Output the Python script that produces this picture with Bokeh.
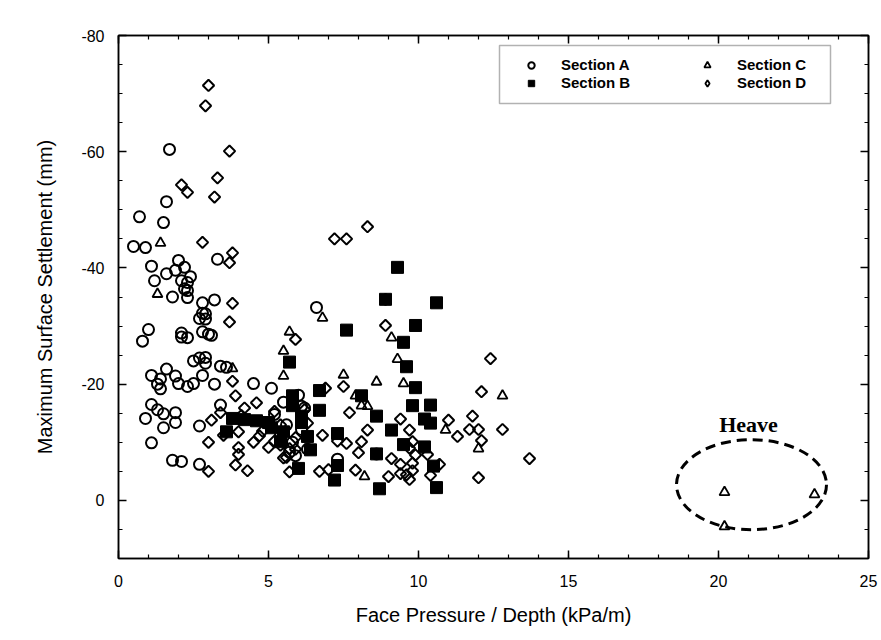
from bokeh.plotting import figure
from bokeh.models import (Range1d, LinearAxis, SingleIntervalTicker, Legend, LegendItem,
                          BoxAnnotation, CustomJSTickFormatter)
from bokeh.core.properties import value
from bokeh.embed import file_html
from bokeh.resources import INLINE

# ---------------- data ----------------
sec_a_x = [1.7, 1.6, 0.7, 1.5, 0.5, 0.9, 3.3, 2.0, 2.2, 1.9, 1.1, 1.6, 2.4, 1.2, 2.1, 2.3, 1.8, 2.2, 2.3, 2.3,
           2.8, 3.2, 2.8, 2.9, 2.7, 2.9, 1.0, 0.8, 2.1, 2.1, 2.3, 2.8, 3.0, 3.1, 2.5, 2.7, 2.9, 2.9, 3.4, 3.6,
           1.1, 1.6, 1.4, 1.3, 1.4, 1.9, 2.0, 2.3, 2.5, 2.8, 3.2, 4.5, 5.1, 1.1, 1.3, 1.5, 1.9, 0.9, 1.9, 1.5,
           2.7, 3.4, 1.1, 1.8, 2.1, 2.7, 6.6, 6.0, 6.2, 8.6, 7.3, 5.5, 5.2, 5.6, 6.1, 5.7, 5.9, 6.3, 5.4, 5.8, 6.1]
sec_a_y = [-60.4, -51.4, -48.8, -47.8, -43.7, -43.5, -41.5, -41.3, -40.1, -39.6, -40.3, -39.0, -38.5, -37.8, -37.8,
           -37.5, -35.0, -36.4, -36.1, -34.9, -34.0, -34.5, -32.2, -32.1, -31.3, -31.2, -29.4, -27.4, -28.8, -28.1,
           -28.0, -29.0, -28.6, -28.4, -24.0, -24.5, -24.6, -23.6, -23.1, -22.9, -21.5, -22.6, -20.9, -20.0, -19.2,
           -21.4, -20.1, -19.6, -20.1, -21.5, -20.0, -20.1, -19.3, -16.5, -15.6, -14.9, -15.1, -14.1, -13.4, -12.5,
           -12.8, -16.4, -9.9, -6.9, -6.7, -6.2, -33.2, -18.1, -15.9, -8.0, -7.1, -16.9, -14.8, -13.0, -12.2, -8.3,
           -7.7, -8.8, -11.3, -10.0, -16.2]

sec_b_x = [3.8, 4.2, 4.6, 5.0, 3.6, 5.8, 5.8, 5.1, 5.4, 6.1, 6.3, 6.4, 6.7, 6.7, 5.7, 6.0, 7.6, 7.3, 7.3, 7.2,
           8.1, 8.6, 9.1, 8.6, 8.7, 9.3, 8.9, 9.9, 9.5, 9.6, 9.9, 9.8, 10.2, 10.4, 10.4, 9.5, 10.2, 10.6, 10.5,
           10.6, 5.5, 6.1]
sec_b_y = [-14.1, -13.9, -13.7, -13.4, -11.8, -18.0, -16.3, -12.5, -10.1, -14.5, -11.0, -8.7, -15.5, -18.9, -23.8,
           -5.5, -29.3, -11.5, -6.0, -3.5, -18.0, -14.5, -12.1, -8.0, -2.0, -40.1, -34.6, -30.1, -27.2, -23.0,
           -19.4, -16.3, -14.0, -13.3, -16.4, -9.6, -9.2, -34.0, -5.9, -2.2, -11.8, -13.4]

sec_c_x = [1.4, 1.3, 3.8, 6.8, 5.7, 5.5, 5.5, 7.5, 9.1, 8.6, 9.3, 9.5, 7.9, 8.1, 8.3, 8.2, 10.9, 12.8, 12.0,
           20.2, 20.2, 23.2]
sec_c_y = [-44.3, -35.5, -22.7, -31.4, -29.0, -25.7, -21.4, -21.6, -28.0, -20.4, -24.3, -20.1, -18.0, -16.3,
           -16.2, -4.1, -12.1, -18.0, -8.9, -1.4, 4.5, -1.0]

sec_d_x = [3.0, 2.9, 3.7, 3.3, 2.1, 2.3, 3.2, 2.8, 3.8, 3.7, 3.8, 3.7, 3.8, 3.9, 3.1, 3.4, 4.2, 4.6, 4.1, 4.0,
           4.5, 4.7, 3.5, 3.0, 4.0, 4.0, 3.9, 3.0, 4.3, 8.3, 7.2, 7.6, 8.9, 8.9, 5.9, 7.5, 6.9, 7.7, 8.3, 8.1,
           9.4, 9.7, 6.8, 7.3, 7.6, 8.0, 9.1, 9.7, 9.9, 9.8, 9.4, 6.7, 7.0, 7.9, 9.0, 9.4, 9.6, 9.7, 5.7, 5.2,
           5.4, 12.4, 12.1, 11.0, 11.8, 11.7, 12.0, 11.3, 12.8, 12.1, 9.8, 10.3, 13.7, 10.7, 10.4, 9.8, 12.0,
           5.2, 5.4, 5.9, 5.7, 5.6, 5.9, 6.2, 6.3, 4.8, 5.0, 5.5]
sec_d_y = [-71.4, -67.9, -60.1, -55.5, -54.3, -53.0, -52.2, -44.4, -42.6, -40.9, -33.9, -30.7, -20.5, -18.0,
           -13.8, -15.1, -15.9, -16.8, -14.6, -11.8, -10.0, -11.1, -11.2, -10.0, -9.1, -7.9, -6.1, -5.0, -5.1,
           -47.1, -45.0, -45.0, -34.6, -30.1, -27.7, -19.6, -19.3, -15.1, -12.1, -10.1, -14.0, -12.1, -11.2,
           -10.2, -9.8, -8.2, -7.2, -9.0, -7.8, -6.4, -6.2, -5.0, -5.3, -5.2, -4.1, -4.6, -4.4, -3.6, -4.9,
           -10.2, -9.5, -24.4, -18.7, -13.8, -14.5, -12.2, -12.2, -11.0, -12.2, -10.3, -10.1, -7.9, -7.2, -6.2,
           -4.3, -5.1, -3.9, -15.3, -13.0, -10.8, -8.9, -7.4, -8.8, -15.6, -13.3, -11.9, -9.1, -7.3]

legend_labels = ["Section A", "Section B", "Section C", "Section D"]

# heave annotation
heave_ellipse_x = [21.1]
heave_ellipse_y = [-2.7]
heave_ellipse_w = 5.0
heave_ellipse_h = 15.5
heave_text_x = [21.0]
heave_text_y = [-13.0]
heave_text = ["Heave"]

x_label = "Face Pressure / Depth (kPa/m)"
y_label = "Maximum Surface Settlement (mm)"

# ---------------- figure ----------------
FONT = "Liberation Sans"

p = figure(width=881, height=640, output_backend="svg", toolbar_location=None,
           x_range=Range1d(0, 25), y_range=Range1d(10, -80))
p.min_border_left = 118
p.min_border_right = 13
p.min_border_top = 35
p.min_border_bottom = 82
p.background_fill_color = "white"
p.border_fill_color = "white"
p.outline_line_color = "black"
p.outline_line_width = 1.5
p.xgrid.visible = False
p.ygrid.visible = False

x_axis = p.below[0]
y_axis = p.left[0]
x_axis.ticker = SingleIntervalTicker(interval=5, num_minor_ticks=5)
y_axis.ticker = SingleIntervalTicker(interval=20, num_minor_ticks=4)
x_axis.formatter = CustomJSTickFormatter(code="return tick.toFixed(0)")
y_axis.formatter = CustomJSTickFormatter(code="return tick.toFixed(0)")

top_axis = LinearAxis(ticker=SingleIntervalTicker(interval=5, num_minor_ticks=5),
                      formatter=CustomJSTickFormatter(code="return ''"))
right_axis = LinearAxis(ticker=SingleIntervalTicker(interval=20, num_minor_ticks=4),
                        formatter=CustomJSTickFormatter(code="return ''"))
p.add_layout(top_axis, "above")
p.add_layout(right_axis, "right")

for ax in [x_axis, y_axis, top_axis, right_axis]:
    ax.major_tick_in = 8
    ax.major_tick_out = 0
    ax.minor_tick_in = 4
    ax.minor_tick_out = 0
    ax.axis_line_color = "black"
    ax.axis_line_width = 1.5
    ax.major_tick_line_color = "black"
    ax.major_tick_line_width = 1.5
    ax.minor_tick_line_color = "black"
    ax.minor_tick_line_width = 1.2
    ax.major_label_text_font = FONT
    ax.major_label_text_font_size = "16px"
    ax.major_label_text_color = "black"

top_axis.major_label_standoff = 0
right_axis.major_label_standoff = 0

x_axis.major_label_standoff = 16
y_axis.major_label_standoff = 14
x_axis.axis_label = x_label
y_axis.axis_label = y_label
for ax in [x_axis, y_axis]:
    ax.axis_label_text_font = FONT
    ax.axis_label_text_font_size = "20px"
    ax.axis_label_text_font_style = "normal"
    ax.axis_label_text_color = "black"
x_axis.axis_label_standoff = 14
y_axis.axis_label_standoff = 22

# ---------------- markers ----------------
r_a = p.scatter(sec_a_x, sec_a_y, marker="circle", size=11, fill_color=None,
                line_color="black", line_width=2)
r_b = p.scatter(sec_b_x, sec_b_y, marker="square", size=12, fill_color="black",
                line_color="black", line_width=1)
r_c = p.scatter(sec_c_x, sec_c_y, marker="triangle", size=10, fill_color=None,
                line_color="black", line_width=1.8)
r_d = p.scatter(sec_d_x, sec_d_y, marker="square", angle=0.785, size=8, fill_color=None,
                line_color="black", line_width=2)
# legend swatch for Section D (a single undefined point, never drawn in the plot area)
nan = float("nan")
r_d_key = p.scatter([nan], [nan], marker="diamond", size=12, fill_color=None,
                    line_color="black", line_width=1.8)

# ---------------- heave annotation ----------------
p.ellipse(x=heave_ellipse_x, y=heave_ellipse_y, width=heave_ellipse_w, height=heave_ellipse_h,
          fill_color=None, line_color="black", line_width=3, line_dash="10 6")
p.text(x=heave_text_x, y=heave_text_y, text=heave_text, text_font=value("Liberation Serif"),
       text_font_style="bold", text_font_size="22px", text_align="center",
       text_baseline="middle", text_color="black")

# ---------------- legend ----------------
box = BoxAnnotation(left=499, right=830, top=45, bottom=103,
                    left_units="canvas", right_units="canvas",
                    top_units="canvas", bottom_units="canvas",
                    fill_color=None, line_color="black", line_width=1.5)
p.add_layout(box)

def make_legend(items, loc):
    leg = Legend(items=items, location=loc)
    leg.border_line_color = None
    leg.background_fill_alpha = 0
    leg.label_text_font = FONT
    leg.label_text_font_style = "bold"
    leg.label_text_font_size = "15px"
    leg.label_text_color = "black"
    leg.glyph_width = 16
    leg.glyph_height = 16
    leg.label_height = 16
    leg.label_standoff = 22
    leg.spacing = 1
    leg.padding = 4
    leg.margin = 0
    return leg

leg1 = make_legend([LegendItem(label=legend_labels[0], renderers=[r_a]),
                    LegendItem(label=legend_labels[1], renderers=[r_b])], (405, 467))
leg2 = make_legend([LegendItem(label=legend_labels[2], renderers=[r_c]),
                    LegendItem(label=legend_labels[3], renderers=[r_d_key])], (581, 467))
p.add_layout(leg1, "center")
p.add_layout(leg2, "center")

open("out.html", "w").write(file_html(p, INLINE))
